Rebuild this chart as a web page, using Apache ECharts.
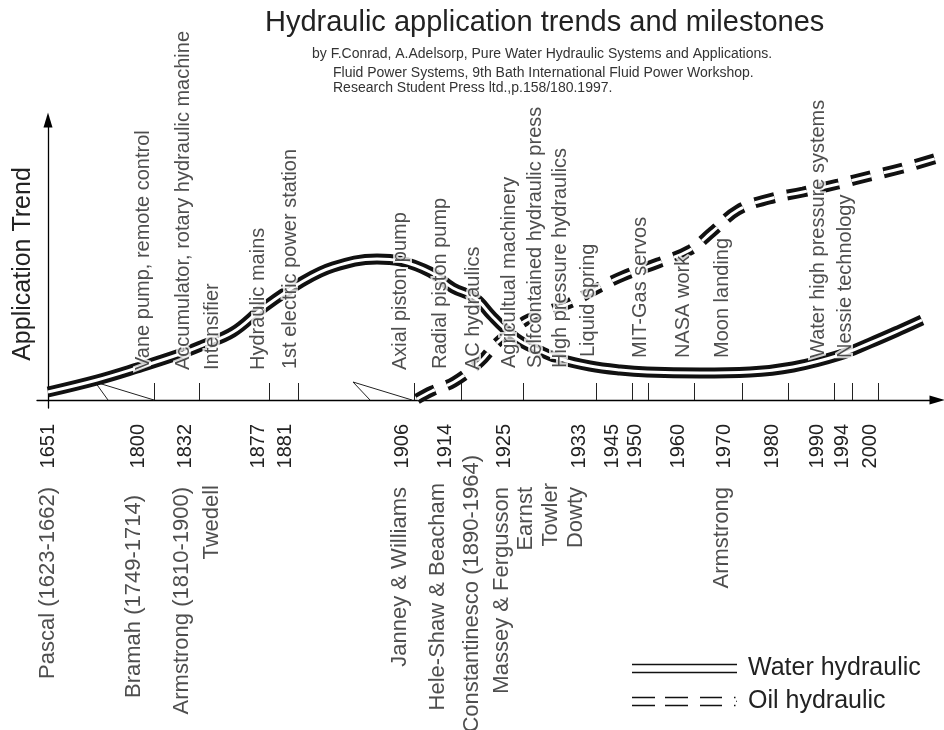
<!DOCTYPE html>
<html>
<head>
<meta charset="utf-8">
<title>Hydraulic application trends and milestones</title>
<script src="https://cdn.jsdelivr.net/npm/echarts@6/dist/echarts.min.js"></script>
<style>
    html, body {margin: 0; padding: 0; background: #fff;}
    #chart {width: 944px; height: 730px;}
</style>
</head>
<body>
<div id="chart"></div>
<script>
// time axis is not linear (with two breaks), so years sit at fixed axis positions
var years = ['1651', '1800', '1832', '1877', '1881', '1906', '1914', '1925', '1933', '1945', '1950', '1960', '1970', '1980', '1990', '1994', '2000'];
var yearLabelPos = [0, 90, 137, 210, 237, 354, 397, 456, 531, 564, 587, 630, 676, 724, 769, 794, 822];
var tickPos = [106, 151, 221, 250, 366, 413, 475, 548, 584, 600, 646, 694, 740, 786, 804, 830];
var axisBreaks = [[106, 47, 60], [364, 305, 322]];

var milestones = ['Vane pump, remote control', 'Accumulator, rotary hydraulic machine', 'Intensifier', 'Hydraulic mains',
    '1st electric power station', 'Axial piston pump', 'Radial piston pump', 'AC hydraulics', 'Agricultual machinery',
    'Selfcontained hydraulic press', 'High pressure hydraulics', 'Liquid spring', 'MIT-Gas servos', 'NASA work',
    'Moon landing', 'Water high pressure systems', 'Nessie technology'];
var milestonePos = [95, 135, 164, 210, 242, 352, 392, 425, 461, 487, 512, 540, 592, 635, 674, 770, 797];
var milestoneLevel = [30, 30, 30, 30, 31, 30, 31, 30, 32, 32, 32, 43, 42, 42, 42, 42, 42];

var inventors = ['Pascal (1623-1662)', 'Bramah (1749-1714)', 'Armstrong (1810-1900)', 'Twedell', 'Janney & Williams',
    'Hele-Shaw & Beacham', 'Constantinesco (1890-1964)', 'Massey & Fergusson', 'Earnst', 'Towler', 'Dowty', 'Armstrong'];
var inventorPos = [0, 86, 134, 164, 352, 390, 424, 454, 478, 503, 528, 674];
var inventorDepth = [79, 87, 79, 77, 79, 75, 47, 79, 79, 75, 79, 79];

var waterTrend = [[0, 8], [49, 20], [89, 32], [132, 46], [155, 55], [185, 68], [215, 92], [252, 117], [285, 133],
    [329, 141], [352, 139], [382, 128], [405, 112], [427, 102], [443, 85], [457, 71], [472, 59], [492, 49],
    [512, 41], [542, 34], [572, 30], [599, 28], [652, 27], [702, 28], [745, 33], [792, 45], [822, 57], [852, 70], [874, 80]];
var oilTrend = [[369, 1], [384, 9], [406, 18], [432, 38], [450, 58], [477, 79], [500, 89], [522, 97], [552, 113],
    [575, 124], [610, 137], [642, 150], [664, 168], [690, 190], [721, 201], [755, 208], [790, 216], [822, 224],
    [855, 232], [896, 244]];

var font = "'Liberation Sans', Arial, Helvetica, sans-serif";
var ink = '#111';
var chart = echarts.init(document.getElementById('chart'));

function yearLabel(v) {
    var i = yearLabelPos.indexOf(v);
    return i >= 0 ? years[i] : '';
}

var breakSeries = axisBreaks.map(function (b) {
    return {
        type: 'line',
        data: [[b[0], 0], [b[1], 18], [b[2], 0]],
        symbol: 'none',
        silent: true,
        lineStyle: {color: '#222', width: 1},
        z: 1
    };
});

var milestoneData = milestones.map(function (m, i) {
    return {name: m, value: [milestonePos[i], milestoneLevel[i]]};
});
var inventorData = inventors.map(function (m, i) {
    return {name: m, value: [inventorPos[i], inventorDepth[i]]};
});

// milestone text: a white halo layer under the dark text, so the curves get cut around the words
function milestoneLayer(halo) {
    return {
        name: halo ? 'milestones-halo' : 'milestones', type: 'scatter', data: milestoneData, symbolSize: 1, silent: true,
        itemStyle: {color: 'transparent'},
        label: {
            show: true, formatter: '{b}', position: 'inside', rotate: 90, align: 'left', verticalAlign: 'middle',
            fontSize: 20, fontFamily: font,
            color: halo ? '#fff' : '#222',
            textBorderColor: halo ? '#fff' : 'transparent',
            textBorderWidth: halo ? 4 : 0
        },
        z: halo ? 9 : 10
    };
}

chart.setOption({
    animation: false,
    textStyle: {fontFamily: font},
    title: [
        {
            text: 'Hydraulic application trends and milestones',
            left: 265, top: 8, padding: 0,
            textStyle: {fontSize: 29, fontWeight: 'normal', color: '#222', fontFamily: font}
        },
        {
            text: 'by F.Conrad, A.Adelsorp, Pure Water Hydraulic Systems and Applications.',
            left: 312, top: 47, padding: 0,
            textStyle: {fontSize: 14, fontWeight: 'normal', color: '#333', fontFamily: font}
        },
        {
            text: 'Fluid Power Systems, 9th Bath International Fluid Power Workshop.\nResearch Student Press ltd.,p.158/180.1997.',
            left: 333, top: 65, padding: 0,
            textStyle: {fontSize: 14, lineHeight: 15.5, fontWeight: 'normal', color: '#333', fontFamily: font}
        }
    ],
    legend: {
        orient: 'vertical',
        left: 632,
        top: 656,
        padding: 0,
        itemWidth: 105,
        itemHeight: 9.5,
        itemGap: 8,
        symbolKeepAspect: false,
        selectedMode: false,
        itemStyle: {borderWidth: 0},
        textStyle: {fontSize: 25, lineHeight: 25, color: '#222', padding: [0, 0, 0, 6], fontFamily: font},
        data: [
            {name: 'Water hydraulic', icon: 'path://M0,0h105v1.5h-105z M0,8h105v1.5h-105z'},
            {name: 'Oil hydraulic', icon: 'path://M0,0h23v1.5h-23z M0,8h23v1.5h-23z M33,0h23v1.5h-23z M33,8h23v1.5h-23z M68,0h22v1.5h-22z M68,8h22v1.5h-22z M102,0h1.5v1.5h-1.5z M102,8h1.5v1.5h-1.5z M104,4h1v1h-1z'}
        ]
    },
    grid: [
        {left: 37, right: 7, top: 120, bottom: 322, containLabel: false, outerBoundsMode: 'none'},
        {left: 37, right: 7, top: 408, bottom: 0, containLabel: false, outerBoundsMode: 'none'}
    ],
    xAxis: [
        {
            type: 'value', gridIndex: 0, min: -11, max: 889,
            splitLine: {show: false},
            axisLine: {onZero: true, symbol: ['none', 'triangle'], symbolSize: [9, 15], lineStyle: {color: '#000', width: 1.3}},
            axisTick: {show: true, inside: true, length: 17, customValues: tickPos, lineStyle: {color: '#222', width: 1}},
            axisLabel: {
                customValues: yearLabelPos, formatter: yearLabel, rotate: 90, margin: 16,
                fontSize: 20, color: '#222', fontFamily: font
            }
        },
        {type: 'value', gridIndex: 1, min: -11, max: 889, show: false}
    ],
    yAxis: [
        {
            type: 'value', gridIndex: 0, min: -8, max: 280,
            splitLine: {show: false},
            axisTick: {show: false},
            axisLabel: {show: false},
            axisLine: {show: true, onZero: true, symbol: ['none', 'triangle'], symbolSize: [9, 15], lineStyle: {color: '#000', width: 1.3}},
            name: 'Application Trend',
            nameLocation: 'middle',
            nameGap: 1,
            nameTextStyle: {fontSize: 25, color: '#222', fontFamily: font}
        },
        {type: 'value', gridIndex: 1, min: 0, max: 322, inverse: true, show: false}
    ],
    series: breakSeries.concat([
        {
            name: 'Water hydraulic', type: 'line', data: waterTrend, smooth: 0.4, symbol: 'none', clip: false,
            itemStyle: {color: ink, borderWidth: 0},
            lineStyle: {color: ink, width: 11}, z: 2
        },
        {
            name: 'water-core', type: 'line', data: waterTrend, smooth: 0.4, symbol: 'none', clip: false, silent: true,
            lineStyle: {color: '#fff', width: 3}, z: 3
        },
        {
            name: 'Oil hydraulic', type: 'line', data: oilTrend, smooth: 0.4, symbol: 'none', clip: false,
            itemStyle: {color: ink, borderWidth: 0},
            lineStyle: {color: ink, width: 11, type: [20, 13], cap: 'butt'}, z: 2
        },
        {
            name: 'oil-core', type: 'line', data: oilTrend, smooth: 0.4, symbol: 'none', clip: false, silent: true,
            lineStyle: {color: '#fff', width: 3, type: [20, 13], cap: 'butt'}, z: 3
        },
        milestoneLayer(true),
        milestoneLayer(false),
        {
            name: 'inventors', type: 'scatter', xAxisIndex: 1, yAxisIndex: 1, data: inventorData, symbolSize: 1, silent: true,
            itemStyle: {color: 'transparent'},
            label: {
                show: true, formatter: '{b}', position: 'inside', rotate: 90, align: 'right', verticalAlign: 'middle',
                fontSize: 22, color: '#222', fontFamily: font
            },
            z: 10
        }
    ])
});
</script>
</body>
</html>
